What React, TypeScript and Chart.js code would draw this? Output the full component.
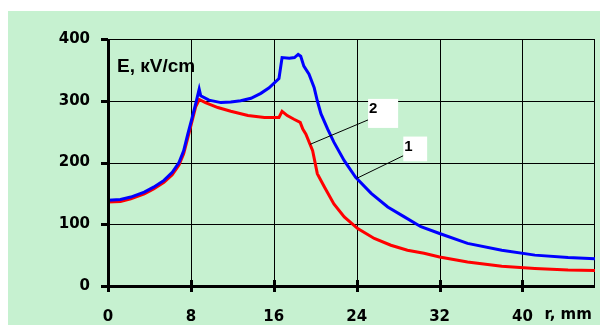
import React, { useEffect, useRef } from 'react';
import { Chart, registerables } from 'chart.js';

Chart.register(...registerables);

// Curve 1 (blue)
const rBlue = [0, 1.2, 2.2, 3.5, 4.4, 5.4, 6.2, 6.85, 7.3, 7.7, 8.05, 8.46, 8.8, 8.95, 9.75, 10.9, 11.85, 12.8, 13.8, 14.75, 15.55, 16.5, 16.8, 17.5, 18.0, 18.35, 18.6, 18.9, 19.4, 19.9, 20.2, 20.55, 21.2, 21.8, 22.8, 23.9, 25.4, 27.0, 28.6, 30.2, 32.0, 34.7, 38.0, 41.2, 44.4, 47];
const eBlue = [139, 140, 144, 152, 160, 171, 184, 200, 219, 246, 268, 295, 319, 308, 301, 297, 298, 300, 304, 312, 321, 336, 370, 369, 370, 375, 372, 356, 343, 321, 300, 279, 254, 233, 203, 176, 150, 128, 112, 96, 85, 69, 58, 50, 46, 44];

// Curve 2 (red)
const rRed = [0, 1.2, 2.2, 3.5, 4.4, 5.4, 6.2, 6.85, 7.3, 7.7, 8.05, 8.46, 8.8, 9.4, 10.6, 11.85, 13.5, 15.1, 16.5, 16.8, 17.3, 17.95, 18.55, 18.8, 19.1, 19.75, 20.2, 20.9, 21.8, 22.8, 24.1, 25.7, 27.3, 28.9, 30.5, 32.0, 34.7, 38.0, 41.2, 44.4, 47];
const eRed = [136, 137, 141, 149, 157, 168, 180, 196, 214, 240, 263, 290, 302, 297, 289, 283, 276, 273, 273, 283, 276, 270, 265, 254, 246, 219, 182, 160, 133, 112, 93, 77, 66, 58, 53, 47, 39, 32, 28.5, 26, 25];

const xTicks = [0, 8, 16, 24, 32, 40];
const yTicks = [0, 100, 200, 300, 400];
const xStep = 8;
const yStep = 100;
const yTitle = 'E, кV/cm';
const xTitle = 'r, mm';

// Callout labels: text, r of the point on the curve, box in data units [r0, E0, r1, E1]
const calloutText = ['2', '1'];
const calloutTargetR = [19.5, 24.0];
const calloutBox = [
  [25.1, 303, 28.0, 256],
  [28.5, 242, 30.8, 202],
];
const calloutAnchorE = [269, 211];

function interp(rs: number[], es: number[], r: number): number {
  for (let i = 1; i < rs.length; i++) {
    if (r <= rs[i]) {
      const t = (r - rs[i - 1]) / (rs[i] - rs[i - 1]);
      return es[i - 1] + t * (es[i] - es[i - 1]);
    }
  }
  return es[es.length - 1];
}

const BG = '#C6F1D0';

const decor = {
  id: 'decor',
  beforeDatasetsDraw(chart: any) {
    const { ctx, chartArea, scales } = chart;
    const { left, right, top, bottom } = chartArea;
    const x = scales.x;
    const y = scales.y;
    ctx.save();
    ctx.fillStyle = '#000';
    // grid lines as crisp 1px rectangles
    xTicks.forEach((v) => {
      const px = Math.round(x.getPixelForValue(v));
      ctx.fillRect(px, Math.round(top), 1, Math.round(bottom - top));
    });
    yTicks.forEach((v) => {
      const py = Math.round(y.getPixelForValue(v));
      ctx.fillRect(Math.round(left), py, Math.round(right - left), 1);
    });
    // right border
    ctx.fillRect(Math.round(right) - 1, Math.round(top), 1, Math.round(bottom - top));
    ctx.restore();
  },
  afterDraw(chart: any) {
    const { ctx, chartArea, scales } = chart;
    const { left, top, bottom } = chartArea;
    const x = scales.x;
    const y = scales.y;
    ctx.save();
    ctx.fillStyle = '#000';
    // x tick marks crossing the axis
    xTicks.forEach((v) => {
      const px = Math.round(x.getPixelForValue(v));
      ctx.fillRect(px - 1, Math.round(bottom) - 6, 3, 12);
    });
    // y tick marks (outside)
    yTicks.forEach((v) => {
      const py = Math.round(y.getPixelForValue(v));
      ctx.fillRect(Math.round(left) - 7, py - 1, 7, 3);
    });
    // axes
    ctx.fillRect(Math.round(left) - 1, Math.round(top), 3, Math.round(bottom - top) + 2);
    ctx.fillRect(Math.round(left) - 1, Math.round(bottom) - 1, Math.round(chart.chartArea.right - left) + 1, 3);
    // titles
    ctx.textBaseline = 'alphabetic';
    ctx.textAlign = 'left';
    ctx.font = 'bold 19px "Liberation Sans", Arial, sans-serif';
    ctx.fillText(yTitle, left + 9, top + 33);
    ctx.font = 'bold 15px "DejaVu Sans", sans-serif';
    ctx.fillText(xTitle, x.getPixelForValue(40) + 22, bottom + 33);
    // callouts
    const series = [
      [rRed, eRed],
      [rBlue, eBlue],
    ];
    calloutText.forEach((t, i) => {
      const [r0, e0, r1, e1] = calloutBox[i];
      const bx0 = x.getPixelForValue(r0);
      const by0 = y.getPixelForValue(e0);
      const bx1 = x.getPixelForValue(r1);
      const by1 = y.getPixelForValue(e1);
      const tr = calloutTargetR[i];
      const te = interp(series[i][0], series[i][1], tr);
      ctx.strokeStyle = '#000';
      ctx.lineWidth = 1;
      ctx.beginPath();
      ctx.moveTo(bx0, y.getPixelForValue(calloutAnchorE[i]));
      ctx.lineTo(x.getPixelForValue(tr), y.getPixelForValue(te));
      ctx.stroke();
      ctx.fillStyle = '#fff';
      ctx.fillRect(bx0, by0, bx1 - bx0, by1 - by0);
      ctx.fillStyle = '#000';
      ctx.font = 'bold 15px "Liberation Sans", Arial, sans-serif';
      ctx.fillText(t, bx0 + 1, by0 + 14);
    });
    ctx.restore();
  },
};

export default function App() {
  const ref = useRef<HTMLCanvasElement | null>(null);
  useEffect(() => {
    if (!ref.current) return;
    const tickFont = { family: '"DejaVu Sans", sans-serif', size: 15, weight: 'bold' as const };
    const chart = new Chart(ref.current, {
      type: 'line',
      data: {
        datasets: [
          {
            label: '1',
            data: rBlue.map((r, i) => ({ x: r, y: eBlue[i] })),
            borderColor: '#0000FF',
            borderWidth: 3,
            pointRadius: 0,
            tension: 0,
            fill: false,
          },
          {
            label: '2',
            data: rRed.map((r, i) => ({ x: r, y: eRed[i] })),
            borderColor: '#FF0000',
            borderWidth: 3,
            pointRadius: 0,
            tension: 0,
            fill: false,
          },
        ],
      },
      options: {
        animation: false,
        responsive: true,
        maintainAspectRatio: false,
        layout: { padding: { top: 28, right: 5, left: 0, bottom: 0 } },
        plugins: { legend: { display: false }, tooltip: { enabled: false } },
        scales: {
          x: {
            type: 'linear',
            min: 0,
            max: 47,
            afterFit: (axis: any) => {
              axis.height = 39;
            },
            ticks: {
              stepSize: xStep,
              includeBounds: false,
              font: tickFont,
              color: '#000',
              padding: 14,
              maxRotation: 0,
              autoSkip: false,
            },
            grid: { display: false },
            border: { display: false },
          },
          y: {
            min: 0,
            max: 400,
            afterFit: (axis: any) => {
              axis.width = 100;
            },
            ticks: { stepSize: yStep, font: tickFont, color: '#000', padding: 10 },
            grid: { display: false },
            border: { display: false },
          },
        },
      },
      plugins: [decor],
    });
    return () => chart.destroy();
  }, []);
  return (
    <div style={{ position: 'fixed', left: 8, top: 11, width: 592, height: 314, background: BG }}>
      <canvas ref={ref} />
    </div>
  );
}
